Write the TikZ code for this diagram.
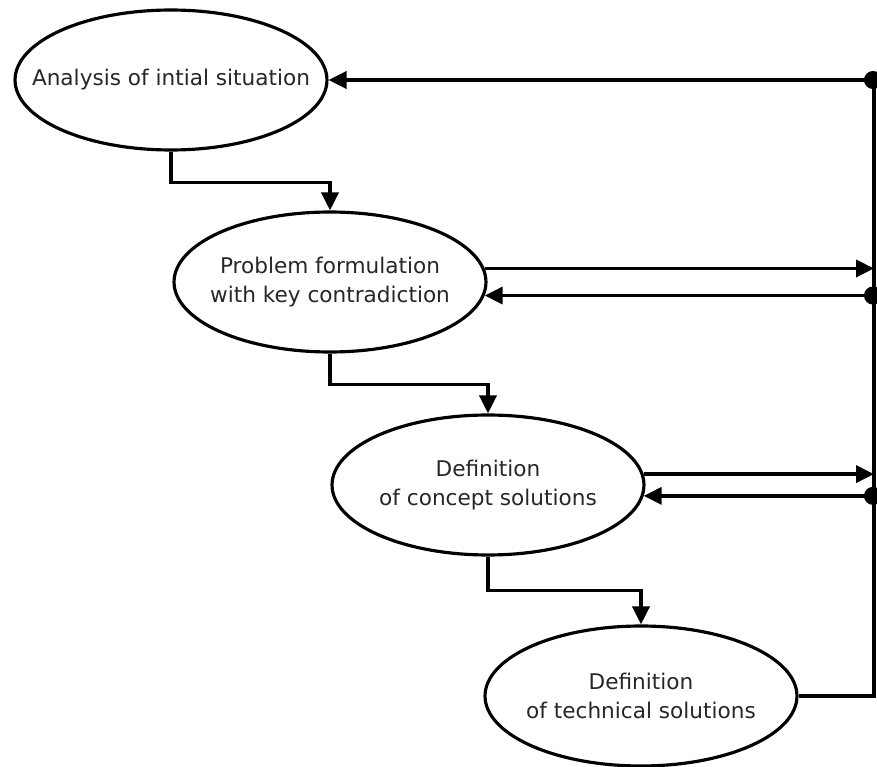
\documentclass[tikz,border=0pt]{standalone}
\usepackage{fontspec}
\setmainfont{DejaVu Sans}
\usetikzlibrary{shapes.geometric,arrows.meta}
\begin{document}
\begin{tikzpicture}[x=0.02cm,y=-0.02cm]
		\tikzstyle{stage}=[draw,ellipse,line width=1.8pt,minimum width=6.24cm,minimum height=2.8cm,inner xsep=-3cm,inner ysep=0pt,align=center,text=black!85,font=\fontsize{12.3}{17}\selectfont]
		\tikzstyle{link}=[line width=2.1pt,-{Triangle[length=0.36cm,width=0.34cm]}]
		\tikzstyle{back}=[line width=2.1pt,{Circle[length=0.36cm]}-{Triangle[length=0.36cm,width=0.34cm]}]
		\useasboundingbox (0,0) rectangle (877,767);

		\node[stage] (ana) at (171,80) {Analysis of intial situation};
		\node[stage] (prob) at (330,282) {Problem formulation\\with key contradiction};
		\node[stage] (conc) at (488,485) {Definition\\of concept solutions};
		\node[stage] (tech) at (641,696) {Definition\\of technical solutions};

		\coordinate (rail) at (874,0);
		\coordinate (dotx) at (882,0);

		\begin{scope}
			\draw[link] (ana.south) -- ++(0,31) -| (prob.north);
			\draw[link] (prob.south) -- ++(0,31) -| (conc.north);
			\draw[link] (conc.south) -- ++(0,34) -| (tech.north);
		\end{scope}

		\begin{scope}
			\draw[line width=2.1pt] (tech.east) -- (tech.east -| rail) -- (ana.east -| rail);
			\draw[back] (ana.east -| dotx) -- (ana.east);
			\draw[link] (prob.5) -- (prob.5 -| rail);
			\draw[back] (prob.-5 -| dotx) -- (prob.-5);
			\draw[link] (conc.4) -- (conc.4 -| rail);
			\draw[back] (conc.-4 -| dotx) -- (conc.-4);
		\end{scope}
	\end{tikzpicture}
\end{document}
